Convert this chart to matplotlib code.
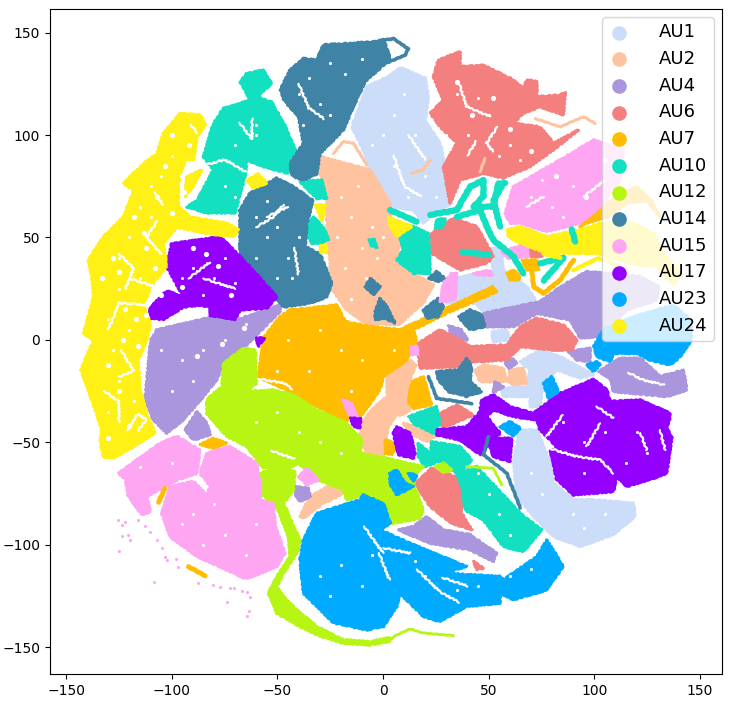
import matplotlib
matplotlib.use("Agg")
import matplotlib.pyplot as plt

# outlines of the clusters
au1_blobs = [
    [(3.4,129),(-7.7,123.6),(-14.8,104),(-9.3,92.7),(-6,83),(3.4,68),(3.3,65),(14.4,63.4),(19.1,57),(22.3,60),(32.5,66.7),(28.6,75),(29.4,84.6),(27,96),(19.9,107),(21.5,118.7),(19.9,127.7),(8,133)],
    [(30,29),(44.4,32.5),(52.2,32.5),(50.7,45),(56.2,44),(57,34),(68,26),(72,19.5),(61.7,14.7),(47.5,13.8),(44,18),(30,18)],
    [(51.5,4),(58.6,5),(60,0),(52,-1)],
    [(64.9,-10.6),(74.3,-4.9),(83.8,-8.1),(99.6,-17),(93.3,-18.7),(82.2,-14.6),(75.9,-21),(74.3,-32.5),(69.6,-32.5),(69.6,-27.6),(57,-27.6),(56.2,-23.6),(68,-22.8),(69.6,-14.6)],
    [(61.7,-58.5),(64.9,-43.9),(72.8,-43.9),(79.1,-60),(80.7,-70),(90.1,-78),(99.6,-78),(118.5,-79.7),(119.3,-86),(109,-95),(93.3,-100.8),(80.7,-96),(71.2,-86),(63.3,-76.4)],
]
au2_blobs = [
    [(-33.7,87),(-29.8,89.5),(-6,83),(3.4,66.7),(3.3,55),(8,48.8),(6.5,37.4),(14.4,32.5),(23.8,27),(19,18),(7.3,7.3),(-1.4,8),(-6,6.5),(-17.2,14.7),(-25,26),(-25,37.4),(-26.6,53.7),(-26.6,70),(-29.8,81)],
    [(1.8,-16.3),(12.8,-9.8),(15.6,-12.2),(12,-21),(12.8,-34),(9.6,-36.6),(6.5,-36.6),(2.5,-42.3),(0.2,-56),(-7.7,-55.3),(-10.8,-48.8),(-10,-40.6),(-5.3,-34),(2,-27.6)],
    [(9.6,-40.6),(16,-42.3),(24.6,-47),(20.7,-49.6),(12.8,-45.5)],
    [(43.6,-14.6),(47.5,-12.2),(57,-13.8),(58.6,-20.3),(45.9,-20.3)],
    [(59.4,-20.3),(60.1,-14.6),(66.4,-13.8),(68,-21),(61.7,-22)],
    [(-39.3,-86),(-34.5,-76.4),(-23.5,-70),(-18.7,-74.8),(-28.2,-79.7),(-37.7,-87)],
]
au2_lines = [
    [(-23.5,91),(-18.7,96.8),(-14,96),(-7.7,85.4)],
    [(72,108),(83.8,104),(94.9,109),(100.4,105.7)],
    [(45.9,82),(48.3,88.6)],
    [(13.6,81.3),(19,83),(22.3,87.8)],
]
au4_blobs = [
    [(-107,5),(-81.8,11),(-69,10),(-48.7,17),(-48.7,14),(-64.5,-2.4),(-75.5,-11.4),(-78.7,-19.5),(-85,-27.6),(-94.5,-39),(-102.4,-45.5),(-108.7,-39),(-112.6,-29),(-110,0)],
    [(-88,-35),(-83.4,-40.6),(-81.8,-46.3),(-89.7,-48.8),(-93.7,-44)],
    [(-41.6,-71.5),(-35.3,-72.4),(-34.5,-76.4),(-39.3,-78.9),(-41.2,-76.4)],
    [(47.5,13),(74.3,18.7),(85.4,26.9),(96.4,33.4),(121.7,30.9),(130.4,26),(129.6,19.5),(115.4,14.7),(103.5,1.6),(93.3,1),(88.5,9.8),(72.8,13),(61.7,6.5),(49,6.5)],
    [(31,7),(37,5),(40,0),(33,0)],
    [(53,-20.3),(57,-22.8),(52.2,-25.7)],
    [(57.8,-11.4),(61,-8.9),(63.3,-11.4),(59.4,-13.8)],
    [(87.8,-5.7),(98,-4),(98,-10.6),(91.7,-9.8)],
    [(102,-15.4),(112.2,-8.9),(121.7,-8.9),(131.2,-17.9),(142.2,-14.6),(143.8,-24.4),(134.3,-27.6),(109,-25.2),(107.5,-18.7)],
    [(7.3,-92.7),(14.4,-91),(20.7,-86.2),(28.6,-92.7),(41.2,-95),(53.8,-104),(52.2,-108),(41.2,-102.4),(22.3,-99.2)],
]
au6_blobs = [
    [(26.2,136.6),(36.5,140.7),(36.5,133.4),(47.5,134),(61.7,127),(66.4,122.8),(68,127),(72.8,126),(72.8,118.7),(83.8,119.5),(86.2,121),(85.4,109.8),(74.3,113.8),(66.4,110.6),(61.7,105.7),(74.3,104),(80.7,96),(92.5,102.5),(82.2,94),(69.6,84.6),(57,79),(47.5,81.3),(36.5,78),(31.7,66.7),(28.6,84.6),(34.9,96),(27,104),(22.3,110.6),(28.6,117),(23.8,128.5)],
    [(23,52),(33.3,59.4),(44.4,55.3),(52.2,40.7),(49.1,37.4),(36.5,34.2),(23,42.3)],
    [(69.6,44.7),(72.8,45.6),(75.1,40.7),(69.6,40.7)],
    [(16.7,-1.6),(27,5),(36.5,0),(41.2,-3.3),(58.6,-2.4),(64.9,6.5),(72.8,10.6),(85.4,7.3),(91.7,0),(89.3,-4.9),(80.6,-4.9),(64.9,-3.3),(58.6,-9.8),(42.8,-10.6),(35.7,-13),(17.5,-13.8),(16.7,-6.5)],
    [(27,-35.8),(34.9,-31.7),(42.8,-36.6),(27.8,-43)],
    [(15.2,-70),(23,-62.6),(36.5,-67.5),(37.3,-84.6),(42,-92.7),(32.5,-89.4),(22.3,-81.3)],
    [(42.8,-108),(47.5,-111.4),(44.4,-112)],
]
au7_blobs = [
    [(-59,-18),(-56.6,1),(-48.7,11.4),(-44,14.7),(-21.9,17),(-17.9,9),(-6,6.5),(8,5),(52,26),(53.8,23.6),(30,13),(14.4,5),(16,0),(11.2,-9.8),(0.2,-17.9),(-1.4,-24),(-6,-31),(-10.8,-37.4),(-16.4,-38),(-17.2,-40),(-31.4,-32.5),(-40.8,-26.8)],
    [(-86.6,-51),(-80.3,-48),(-74,-50.4),(-80,-53)],
    [(13.6,-20.3),(19.1,-17.9),(23,-31.7),(14.4,-33.3),(12,-30)],
    [(1,-48.8),(6.5,-50.4),(4.1,-56),(1,-55.3)],
    [(58.6,32.5),(61.7,34.2),(64.9,31),(64.1,29.3),(60.1,29.3)],
    [(65.7,39),(72.8,39),(73.6,34.2),(68,34.2)],
    [(93,55),(100,62),(108,68),(120,75),(127,68),(131,60),(125,68),(116,67),(106,60),(96,57)],
]
au7_lines = [
    [(70.4,34),(71.2,26),(76,22.8),(83.8,29.3),(90.1,39)],
    [(-92.1,-110.6),(-84.2,-115.1)],
    [(-103.2,-72.4),(-106.3,-79.2)],
]
au10_blobs = [
    [(-67.6,126),(-64.5,130),(-56.6,131.7),(-52.7,125),(-59.8,118.7),(-52.7,116),(-47,106),(-40.8,91),(-44.8,81.3),(-56.6,84.6),(-64.5,87.8),(-65.3,80),(-70,62),(-83.4,62),(-92.9,65),(-88,68),(-80.3,83),(-85,89.5),(-80.3,105.7),(-75.5,113),(-62.9,117)],
    [(-39.3,77.3),(-29,78),(-26.6,69.1),(-31.4,69.1)],
    [(-36.9,53.7),(-32.9,60.2),(-27.4,53.7),(-25.8,48.8),(-29.8,47.2),(-33.7,47.2)],
    [(-6.5,49),(-4,49),(-3,45),(-5.5,46)],
    [(8,50.4),(12.8,56),(21.5,52),(22.3,32.5),(14.4,32.5),(6.5,39),(9.6,44)],
    [(25.4,58.6),(29.4,59.4),(28.6,55.3),(24.6,54.5)],
    [(12,-37.4),(25.4,-32.5),(27,-40.7),(23.8,-45.5),(14.4,-40.7)],
    [(16.7,-50.4),(22.3,-55.3),(24.6,-60),(19.9,-61.8),(16.7,-57)],
    [(23,-49.6),(36.5,-52),(42,-58.5),(36.5,-65),(44.4,-61.8),(64.9,-84.6),(75.1,-92.7),(66.4,-103.3),(57,-100.8),(47.5,-87.8),(38.8,-83),(37.3,-71.5),(34.9,-65),(22.3,-57)],
]
au10_lines = [
    [(22.3,61),(34.9,63.4),(41.2,74.8),(47.5,78),(47.5,70),(42.8,65),(52.2,65),(54.6,76.4),(57.8,76.4)],
    [(34.9,60),(46,63.4),(49.1,55.3),(52.2,48.8),(61.7,40.7),(66.4,32.5)],
    [(56.2,74.8),(52.2,68.3),(55.4,55.3)],
    [(3.3,63.4),(15.9,57.7)],
    [(37.3,43),(49.9,41.5)],
    [(74.3,37.4),(85.4,40),(76,29)],
    [(89.3,54),(90.9,48)],
]
au12_blobs = [
    [(-75.5,-11.4),(-66,-4),(-60.5,-4.9),(-59.8,-21),(-64.5,-25),(-51.9,-24.4),(-42.4,-26.8),(-32.9,-33.3),(-17.2,-40.6),(-10,-48.8),(-10.8,-55.3),(-1.4,-57),(19,-61.8),(16,-65),(14.4,-70),(19,-83),(17.5,-87),(1.8,-90),(-1.4,-87.8),(0.2,-79.7),(-9.3,-75.6),(-17.2,-78),(-18.7,-73),(-31.4,-68),(-40,-60),(-44,-62.6),(-48.7,-62),(-56.6,-62.6),(-64.5,-52),(-74,-47),(-83.4,-35.8),(-83.4,-29),(-76.3,-22.8)],
    [(-58.2,-65),(-48.7,-61.8),(-41.6,-64.2),(-42.4,-73.2),(-47.1,-79.7),(-39.3,-97.6),(-40,-102.4),(-47.1,-113.8),(-50.3,-120.3),(-47.1,-125.2),(-40.8,-131.7),(-31.4,-139.8),(-18.7,-146.3),(-6.1,-147.2),(3.4,-145.2),(3.4,-147),(-6.1,-148.8),(-18.7,-148),(-31.4,-143.9),(-42.4,-138.2),(-50.3,-133.3),(-54.2,-123.6),(-50.3,-115.4),(-44,-105.7),(-44.8,-95.9),(-50.3,-81.3),(-56.6,-76.4)],
    [(-18.7,-89.4),(-11.6,-91),(-11.6,-99),(-18,-97.6)],
    [(24.6,-61.8),(28.6,-60),(32.5,-63.4),(28.6,-64.7)],
]
au12_lines = [
    [(3,-146.5),(6.5,-144),(12.8,-141),(19,-143),(33.3,-144.2)],
    [(39.6,-61.8),(52.2,-62.6),(56.2,-70.7)],
]
au14_blobs = [
    [(-48.7,122),(-44,131.7),(-37.7,137.4),(-31.4,136.6),(-28.2,144),(-3,145.6),(0.2,146.7),(3.4,137.4),(-1.4,132.5),(-6,128.5),(-8.5,126),(-14,114),(-18.7,102.5),(-29.8,91),(-31.4,81),(-37.7,78),(-43,80),(-44,86),(-37.7,96),(-40,109),(-47,117)],
    [(-67.7,63.4),(-63,71.6),(-50.3,79),(-42.4,74.8),(-33,68),(-36,57),(-36.9,45.5),(-29.8,42),(-24.3,27.7),(-26.6,21),(-34.5,18),(-47,16),(-55,26),(-67.7,42.3)],
    [(-8.5,26),(-6,30),(-1.4,26),(-4.5,22)],
    [(-3.7,14),(-1.4,20.3),(1.8,16.3),(5.7,8.2),(1,10.6),(-3.7,10)],
    [(21.5,30),(25.4,33.4),(29.4,30),(26.2,28.5)],
    [(19.1,14.7),(26.2,20.4),(28.6,16.3),(26.2,11.4),(20.7,10.6)],
    [(35.7,11.4),(41.2,14.7),(46.7,12.2),(48.3,6.5),(41.2,4.9)],
    [(25.4,-15.4),(35.7,-14.6),(39.6,-8.9),(42,-13),(41.2,-20.3),(46.7,-25.2),(39.6,-27.6),(31,-25.2),(26.2,-19.5)],
]
au14_lines = [
    [(-1.4,146),(5,147),(12,142),(10.4,139),(5,136.6),(-1.4,134)],
    [(21.5,-17.9),(25.4,-28.5),(42,-31)],
    [(49.9,-47.2),(47.5,-56),(58.6,-65),(64.9,-82)],
]
au15_blobs = [
    [(-125.2,-65),(-105.5,-50.4),(-97.6,-47),(-86.6,-53.7),(-88,-65),(-97.6,-68.3),(-111.8,-76.4),(-110,-83.7),(-114,-85.4),(-120.5,-76.4),(-122,-68)],
    [(-83.4,-55.3),(-72.4,-52),(-59.8,-60),(-58,-78),(-51.9,-79.7),(-51,-91),(-46.4,-104),(-50.3,-110.6),(-63,-116),(-66,-116),(-88,-105.7),(-100.8,-96),(-104.7,-84.6),(-100.8,-71.5),(-89.7,-69),(-83.4,-75.6),(-81.8,-71.5),(-86.6,-65)],
    [(-62.9,-68),(-58,-68),(-58,-76),(-62.9,-76)],
    [(-40,-66.7),(-36,-62.6),(-30.6,-68.3),(-36,-70.7)],
    [(57.8,61.8),(61.7,74.8),(80.7,86),(99.6,97.6),(113.8,92.7),(112.2,78),(102.8,65),(93.3,57),(77.5,52.9),(64.9,57),(60.1,57)],
    [(56.2,43),(68,47),(68.8,40.7),(59.4,39.9)],
    [(42.8,32.5),(50.7,34),(51.5,31.7),(44.4,31.7)],
    [(32.5,32.5),(34.9,32.5),(34.1,19.5),(27,18.7),(28.6,27.7)],
    [(-19,-29),(-15,-31),(-12,-38),(-16,-37)],
    [(13,-3),(16,-3),(16,-7),(13,-7)],
]
au17_blobs = [
    [(-100,47),(-77,50.4),(-63,35.8),(-50.3,21),(-55,15.5),(-67.6,14.7),(-70,10),(-81.8,12),(-81.8,16),(-86.6,17),(-94.5,16),(-104,10),(-111,10.6),(-110,16),(-102.4,24),(-94.5,21),(-102.4,36)],
    [(46.7,-29.3),(52.2,-26.8),(60.1,-32.5),(71.2,-35.8),(83.8,-26),(99.6,-19.2),(105.9,-24.4),(107.5,-30),(121.7,-29.3),(135.9,-35.8),(135.9,-37.4),(134.3,-43),(136.7,-47.2),(134.3,-65),(128,-67.5),(115.4,-71.5),(110.6,-66.7),(109,-74),(90.1,-75.6),(82.2,-68.3),(79.1,-53.7),(83,-53.7),(79.1,-48.8),(74.3,-43.9),(72.8,-39),(61.7,-37.4),(52.2,-34.1),(49.1,-37.4),(55.4,-45.5),(53.8,-47.2),(46,-56),(36.5,-48.8),(25.4,-46.3),(25.4,-43.9),(39.6,-42.3),(45.9,-35)],
    [(53,-48),(60.9,-48),(60.1,-59.3),(52.2,-57),(50.7,-52)],
    [(6.5,-42.3),(12.8,-45.5),(15.2,-55.3),(14.4,-57.7),(7.3,-56),(4.9,-45.5)],
    [(-15.5,-38),(-10.5,-38.5),(-11,-43),(-14,-42)],
    [(-60,1),(-56,1),(-59,-3)],
]
au23_blobs = [
    [(-37.7,-97.6),(-31.4,-84.6),(-10.8,-78),(-9.3,-75.6),(0.2,-79.7),(3.4,-89.4),(-1.4,-92.7),(12.8,-99.2),(39.6,-110.6),(28.6,-113.8),(55.4,-115.4),(57,-117),(72.8,-105.7),(77.5,-97.6),(85.4,-110.6),(80.7,-117),(77.5,-122),(61.7,-126.8),(55.4,-123.6),(55.4,-128.5),(39.6,-130),(27,-137.4),(19.1,-135),(8,-123.6),(6.5,-130),(0.2,-139.8),(-7.7,-141.5),(-23.5,-138),(-37.7,-123.6),(-39.3,-107.3)],
    [(75.9,-21),(79.9,-17.9),(83,-25.2),(78.3,-28.5)],
    [(96.4,-12.2),(101.2,-10.6),(102.8,-12.2),(99.6,-15.4)],
    [(104.3,5),(118.5,11.4),(137.5,17),(145.4,10),(146,0),(140.6,-8.1),(135.9,-12.2),(126.4,-9.8),(120,-6.5),(109,-6.5),(107.5,-10.6),(101.2,-8.1),(99.6,-3.3)],
    [(55.4,-42.3),(60.1,-39.8),(64.9,-43),(61.7,-47)],
    [(3.3,-65),(6.5,-63.4),(10.4,-70),(14.4,-71.5),(6.5,-75.6),(3.3,-70)],
    [(12,-65),(16,-65.9),(14.4,-69)],
]
au24_blobs = [
    [(-96,110.6),(-86.6,109.8),(-84,105),(-88,99),(-89.7,88),(-93.7,88),(-96.8,76.4),(-96.8,65),(-91.3,60),(-74,57),(-68.4,53.7),(-70.8,50.4),(-83.4,52),(-97.6,55),(-104,47),(-102.4,36),(-110,26),(-113,16),(-110,8),(-111.8,0),(-115.8,-10),(-115,-24),(-111.8,-36),(-107.9,-45.5),(-118,-52),(-127.6,-57.7),(-132.4,-57),(-134,-48.8),(-133,-44),(-140,-22.8),(-143,-14.6),(-137,0),(-141.8,3),(-137,21),(-137.9,31),(-139.5,39),(-132.4,50.4),(-122.9,60),(-118,73),(-122.9,76.4),(-113.4,86),(-107,91),(-104,100.8)],
    [(-92.9,79.7),(-85.8,83),(-89.7,75),(-93.7,70)],
    [(-64.5,78),(-59,81),(-55,76.4),(-61.3,74)],
    [(-32,66),(-27.4,66),(-29,58)],
    [(-30,46.5),(-27,46.5),(-27,43),(-30,43)],
    [(2.5,60),(13.6,55.3),(6.5,50.4),(3.3,55.3)],
    [(58.6,53.7),(64.9,55.3),(77.5,50.4),(93.3,53.7),(102.8,57),(118.5,57),(128,52),(132.7,42.3),(140.6,32.5),(137.5,26.9),(129.6,35.8),(116.9,37.4),(101.2,42.3),(77.5,42.3),(64.9,47.2),(59.4,50.4)],
]
au24_lines = [
    [(90,34),(102,40),(112,36)],
    [(76,42),(84,40)],
]
# single dots of AU15 that lie outside the big patches
au15_dots_x = [-125.2,-123.7,-122.1,-123.7,-120.5,-119.7,-124.8,-115.8,-112.6,-110.3,-107.1,-104.7,-103.2,-102,-98,-97.2,-108.2,-87.7,-80.3,-77.1,-72.4,-70.5,-66.9,-64.5,-62.9,-74,-63.4,-64.5]
au15_dots_y = [-87.8,-90.2,-88.6,-95.9,-95.1,-97.6,-103.2,-87.8,-91,-93.5,-97.6,-101.6,-105.7,-107.3,-107,-110.6,-117.9,-118.7,-119.5,-120.6,-121.1,-121.1,-122.3,-122.8,-125.2,-128,-132.5,-134.5]

# empty channels and holes between the points
gap_lines = [
    [(-91,105),(-88,101)],
    [(-120,30),(-108,26),(-112,17),(-125,18),(-130,5)],
    [(-121,-44),(-116,-36),(-112,-39),(-116,-44)],
    [(-85,85),(-75,88),(-65,82)],
    [(-68,106),(-62,98),(-62,108)],
    [(-40,125),(-35,113),(-28,108)],
    [(5,90),(10,75),(18,70)],
    [(12,100),(20,88)],
    [(-55,60),(-45,65)],
    [(-42,45),(-40,32)],
    [(-85,30),(-70,25)],
    [(85,-36.6),(77.5,-47)],
    [(102.7,-40.7),(96.4,-52)],
    [(79,-53),(92,-57),(103,-58.5),(109,-65)],
    [(121.7,-45.5),(124.8,-53.7)],
    [(131,-44),(133.5,-53.7)],
    [(101,-32.5),(109,-38)],
    [(35.7,126),(39.6,113.8),(50.7,109)],
    [(54,104),(49,96),(52,92)],
    [(0.2,-101.6),(12.8,-104)],
    [(16,-112),(27,-123),(36,-128)],
    [(28,-116),(40,-120)],
    [(-2,-104),(3,-117)],
    [(-9,-91),(0,-104)],
    [(116,-16),(123,-19.5),(133,-22)],
    [(-59,-19),(-47,-21),(-43,-24)],
    [(-53,-54),(-42,-58)],
    [(-107,58),(-112,50),(-105,42)],
    [(-125,42),(-118,35),(-122,25)],
    [(-132,-25),(-125,-30),(-125,-40)],
    [(-124,-5),(-118,-15),(-125,-18)],
    [(-108,72),(-104,66)],
    [(-60,55),(-52,60),(-47,66)],
    [(-92,30),(-82,38)],
    [(95,70),(105,78)],
    [(68,65),(76,70)],
    [(40,90),(44,97)],
]
gap_x = [-20,-15,-12,-22,-10,-5,-18,-8,-15,-3,0,-60,-55,-50,-45,-43,-50,-60,-40,-55,-40,-35,-25,-18,-10,-30,-38,-25,5,10,0,-5,15,5,20,12,25,35,45,50,40,60,65,55,30,70,80,90,75,85,-110,-120,-125,-115,-125,-130,-120,-128,-125,-118,-130,-110,-105,-115,-100,-90,-80,-70,-85,-75,-95,-95,-90,-100,-85,-75,-65,-105,-30,-20,-45,-50,-10,-35,-15,5,-60,-50,-40,-30,-20,-90,-80,-95,-75,-65,-60,-85,-115,-100,-20,-10,-30,-25,-5,20,35,45,15,60,70,85,95,105,120,125,115,95,75,70,90,105,95,55,60,45,50,-60,-70,-75,-70,-60]
gap_y = [70,60,75,50,45,55,35,30,20,40,50,60,50,55,40,30,30,40,50,68,120,128,135,130,137,115,105,110,110,120,100,95,100,85,80,70,70,120,118,110,100,95,88,90,100,70,65,75,78,60,60,50,40,30,25,10,5,-5,-20,-30,-35,75,80,65,90,35,30,28,22,40,30,-10,-20,-25,-5,0,8,-5,5,-5,0,-15,-10,-15,-25,-5,-40,-35,-45,-50,-55,-85,-80,-90,-95,-105,-90,-100,-62,-60,-110,-120,-115,-125,-105,-115,-122,-120,-108,-115,-112,-40,-50,-45,-45,-55,-60,-65,-75,-65,-85,-85,-92,-85,-95,-65,-75,100,95,75,70,105]
# bigger holes, mostly in the loose AU24 area
hole_x = [-100,-95,-107,-103,-112,-118,-108,-128,-133,-122,-130,-112,-125,-120,-130,-123,-116,-125,-100,-113,-105,-117,-94,-92,-90,-84,-78,-95,-72,-88,-76,-66,35,42,52,60,70,82,96,105]
hole_y = [100,80,70,85,45,60,35,40,30,15,-12,12,-25,-42,-48,0,-3,33,62,52,22,10,72,95,45,42,36,26,22,-8,-2,6,126,110,118,103,92,80,70,88]

au_names = ["AU1", "AU2", "AU4", "AU6", "AU7", "AU10", "AU12", "AU14", "AU15", "AU17", "AU23", "AU24"]
au_colors = ["#cbddf9", "#ffc3a0", "#a996dc", "#f37f7f", "#ffbc00", "#12e0c0",
             "#b6f514", "#3f83a6", "#ffa6f2", "#9300ff", "#00abff", "#fff015"]
au_blobs = [au1_blobs, au2_blobs, au4_blobs, au6_blobs, au7_blobs, au10_blobs,
            au12_blobs, au14_blobs, au15_blobs, au17_blobs, au23_blobs, au24_blobs]
au_lines = [[], au2_lines, [], [], au7_lines, au10_lines,
            au12_lines, au14_lines, [], [], [], au24_lines]
line_widths = [2, 2.2, 2, 2, 3.5, 4.5, 2, 2.6, 2, 2, 2, 3]

fig = plt.figure(figsize=(7.31, 7.05), dpi=100)
ax = fig.add_axes([50 / 731, 31 / 705, 672 / 731, 665 / 705])

for name, color, blobs, lines, lw in zip(au_names, au_colors, au_blobs, au_lines, line_widths):
    for blob in blobs:
        xs, ys = zip(*blob)
        patch = ax.fill(xs, ys, facecolor=color, edgecolor=color, lw=2, joinstyle="round")[0]
        patch.set_sketch_params(scale=0.6, length=5, randomness=3)
    for line in lines:
        xs, ys = zip(*line)
        l = ax.plot(xs, ys, color=color, lw=lw, solid_capstyle="round", solid_joinstyle="round")[0]
        l.set_sketch_params(scale=0.3, length=8, randomness=3)
    ax.scatter([], [], color=color, s=90, label=name)

ax.scatter(au15_dots_x, au15_dots_y, color=au_colors[8], s=5, lw=0)

for line in gap_lines:
    xs, ys = zip(*line)
    l = ax.plot(xs, ys, color="white", lw=1.6, solid_capstyle="round")[0]
    l.set_sketch_params(scale=0.8, length=6, randomness=3)
ax.scatter(gap_x, gap_y, color="white", s=5, lw=0, zorder=3)
ax.scatter(hole_x, hole_y, color="white", s=14, lw=0, zorder=3)

ax.set_xlim(-157.6, 160.4)
ax.set_ylim(-163, 161.5)
ax.set_xticks([-150, -100, -50, 0, 50, 100, 150])
ax.set_yticks([-150, -100, -50, 0, 50, 100, 150])
ax.legend(loc="upper right", fontsize=13, labelspacing=0.48, handlelength=1.2,
          handletextpad=1.6, borderpad=0.35, borderaxespad=0.45)

fig.savefig("out.png", dpi=100)
